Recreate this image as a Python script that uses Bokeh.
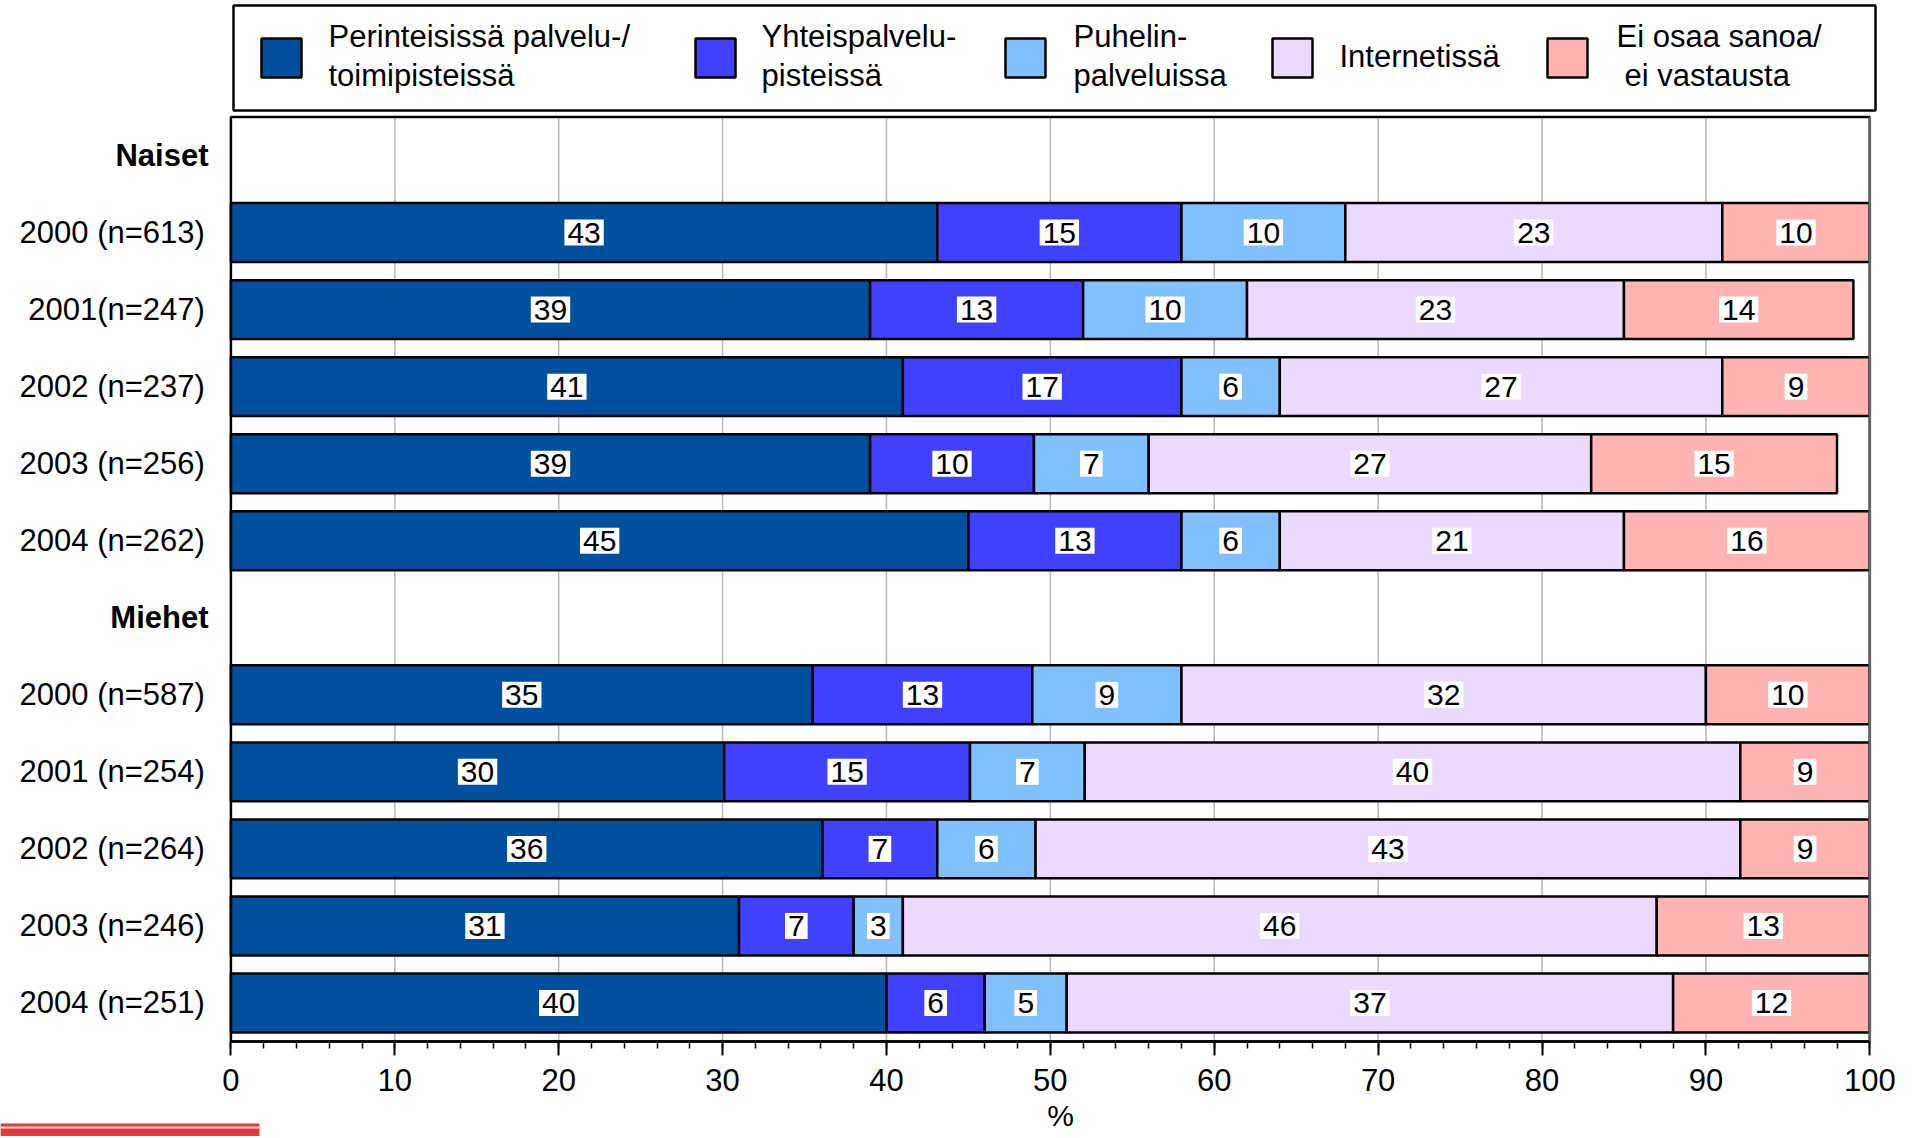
from bokeh.plotting import figure
from bokeh.models import (Range1d, FixedTicker, SingleIntervalTicker, LinearAxis,
                          ColumnDataSource)
from bokeh.embed import file_html
from bokeh.resources import INLINE
from bokeh.core.properties import value

# ---------------- data ----------------
rows = ["Naiset", "2000 (n=613)", "2001(n=247)", "2002 (n=237)", "2003 (n=256)", "2004 (n=262)",
        "Miehet", "2000 (n=587)", "2001 (n=254)", "2002 (n=264)", "2003 (n=246)", "2004 (n=251)"]
group_rows = ["Naiset", "Miehet"]
data_rows = [r for r in rows if r not in group_rows]

series = ["Perinteisissä palvelu-/\ntoimipisteissä", "Yhteispalvelu-\npisteissä",
          "Puhelin-\npalveluissa", "Internetissä", "Ei osaa sanoa/\nei vastausta"]
colors = ["#00509f", "#4040ff", "#80c0ff", "#ecd9ff", "#ffb3b3"]

# bar lengths in %
perinteiset = [43.1, 39, 41, 39, 45, 35.5, 30.1, 36.1, 31, 40]
yhteis = [14.9, 13, 17, 10, 13, 13.4, 15, 7, 7, 6]
puhelin = [10, 10, 6, 7, 6, 9.1, 7, 6, 3, 5]
internet = [23, 23, 27, 27, 21, 32, 40, 43, 46, 37]
eos = [9, 14, 9, 15, 15, 10, 7.9, 7.9, 13, 12]

# printed labels
lab_perinteiset = [43, 39, 41, 39, 45, 35, 30, 36, 31, 40]
lab_yhteis = [15, 13, 17, 10, 13, 13, 15, 7, 7, 6]
lab_puhelin = [10, 10, 6, 7, 6, 9, 7, 6, 3, 5]
lab_internet = [23, 23, 27, 27, 21, 32, 40, 43, 46, 37]
lab_eos = [10, 14, 9, 15, 16, 10, 9, 9, 13, 12]

x_ticks = [0, 10, 20, 30, 40, 50, 60, 70, 80, 90, 100]
x_label = "%"

FONT = value("Liberation Sans")

# ---------------- layout geometry (canvas pixels) ----------------
W, H = 1920, 1136
PLOT_L, PLOT_R = 230.4, 1869.3      # pixel of 0 % and 100 %
PLOT_T, PLOT_B = 116.5, 1041.0      # top / bottom of the row bands
n = len(rows)
kx = (PLOT_R - PLOT_L) / 100.0
ky = (PLOT_B - PLOT_T) / n
x0 = -PLOT_L / kx
x1 = (W - PLOT_L) / kx
y_top = -0.5 - PLOT_T / ky
y_bot = -0.5 + (H - PLOT_T) / ky

p = figure(width=W, height=H, x_range=Range1d(x0, x1), y_range=Range1d(y_bot, y_top),
           toolbar_location=None, output_backend="svg", min_border=0,
           x_axis_location=None, y_axis_location=None)
p.grid.visible = False
p.outline_line_color = None
p.extra_x_ranges = {"px": Range1d(0, W)}
p.extra_y_ranges = {"px": Range1d(H, 0)}

# vertical grid lines
gx = x_ticks[1:-1]
p.segment(x0=gx, y0=[-0.5] * len(gx), x1=gx, y1=[n - 0.5] * len(gx),
          line_color="#b8b8b8", line_width=1.5)

# bars + value labels
ys = [rows.index(r) for r in data_rows]
shares = [perinteiset, yhteis, puhelin, internet, eos]
labels = [lab_perinteiset, lab_yhteis, lab_puhelin, lab_internet, lab_eos]
cum = [0.0] * len(data_rows)
for k in range(len(series)):
    left = cum[:]
    right = [a + b for a, b in zip(left, shares[k])]
    src = ColumnDataSource(dict(y=ys, left=left, right=right,
                                xc=[(a + b) / 2 for a, b in zip(left, right)],
                                lab=[str(v) for v in labels[k]]))
    p.hbar(y="y", left="left", right="right", height=0.765, source=src,
           fill_color=colors[k], line_color="black", line_width=2.5)
    p.text(x="xc", y="y", text="lab", source=src, text_font=FONT, text_font_size="30px",
           text_align="center", text_baseline="middle", text_color="black",
           background_fill_color="white", padding=3)
    cum = right

# plot border
p.quad(left=[0], right=[100], top=[-0.5], bottom=[n - 0.5], fill_color=None,
       line_color="black", line_width=2.5)
p.segment(x0=[100], y0=[-0.5], x1=[100], y1=[n - 0.5], line_color="#666666", line_width=2.5)

# x axis
xa = LinearAxis(fixed_location=n - 0.5, bounds=(0, 100),
                ticker=SingleIntervalTicker(interval=10, num_minor_ticks=5))
xa.axis_line_color = "black"
xa.axis_line_width = 2.5
xa.major_tick_in = 0
xa.major_tick_out = 14
xa.minor_tick_in = 0
xa.minor_tick_out = 7
xa.major_tick_line_color = "black"
xa.major_tick_line_width = 2
xa.minor_tick_line_color = "black"
xa.minor_tick_line_width = 1.5
xa.major_label_text_font = "Liberation Sans"
xa.major_label_text_font_size = "31px"
xa.major_label_text_color = "black"
xa.major_label_standoff = 13
p.add_layout(xa, "below")

# y axis (year rows)
ya = LinearAxis(fixed_location=0, ticker=FixedTicker(ticks=ys))
ya.major_label_overrides = {i: r for i, r in enumerate(rows) if r not in group_rows}
ya.axis_line_color = None
ya.major_tick_line_color = None
ya.minor_tick_line_color = None
ya.major_label_standoff = 20
ya.major_label_text_font = "Liberation Sans"
ya.major_label_text_font_size = "31px"
ya.major_label_text_color = "black"
p.add_layout(ya, "left")

# group headings
gy = [rows.index(g) for g in group_rows]
p.text(x=[208] * len(gy), y=gy, text=group_rows, x_range_name="px",
       text_font=FONT, text_font_size="31px", text_font_style="bold",
       text_align="right", text_baseline="middle", text_color="black")

# x axis title
p.text(x=[1060], y=[1115], text=[x_label], x_range_name="px", y_range_name="px",
       text_font=FONT, text_font_size="30px", text_align="center",
       text_baseline="middle", text_color="black")

# legend
p.quad(left=[233], right=[1875], top=[5], bottom=[110], x_range_name="px", y_range_name="px",
       fill_color="white", line_color="black", line_width=2.5)
sq_left = [261, 695, 1005, 1272, 1547]
txt_left = [328, 761, 1073, 1339, 1616]
p.quad(left=sq_left, right=[s + 40 for s in sq_left], top=[38] * 5, bottom=[77] * 5,
       x_range_name="px", y_range_name="px",
       fill_color=colors, line_color="black", line_width=2.5)
lx, ly, lt = [], [], []
for i, name in enumerate(series):
    parts = name.split("\n")
    if len(parts) == 1:
        lx.append(txt_left[i]); ly.append(56); lt.append(parts[0])
    else:
        lx.append(txt_left[i]); ly.append(36); lt.append(parts[0])
        lx.append(txt_left[i] + (8 if i == 4 else 0)); ly.append(75); lt.append(parts[1])
p.text(x=lx, y=ly, text=lt, x_range_name="px", y_range_name="px",
       text_font=FONT, text_font_size="31px", text_align="left",
       text_baseline="middle", text_color="black")

# cropped red strip at bottom-left
p.quad(left=[0], right=[259], top=[1123], bottom=[H], x_range_name="px", y_range_name="px",
       fill_color="#e23a3f", line_color=None)
p.segment(x0=[0], y0=[1127], x1=[259], y1=[1127], x_range_name="px", y_range_name="px",
          line_color="#f5d0d0", line_width=2)

open("out.html", "w").write(file_html(p, INLINE))
